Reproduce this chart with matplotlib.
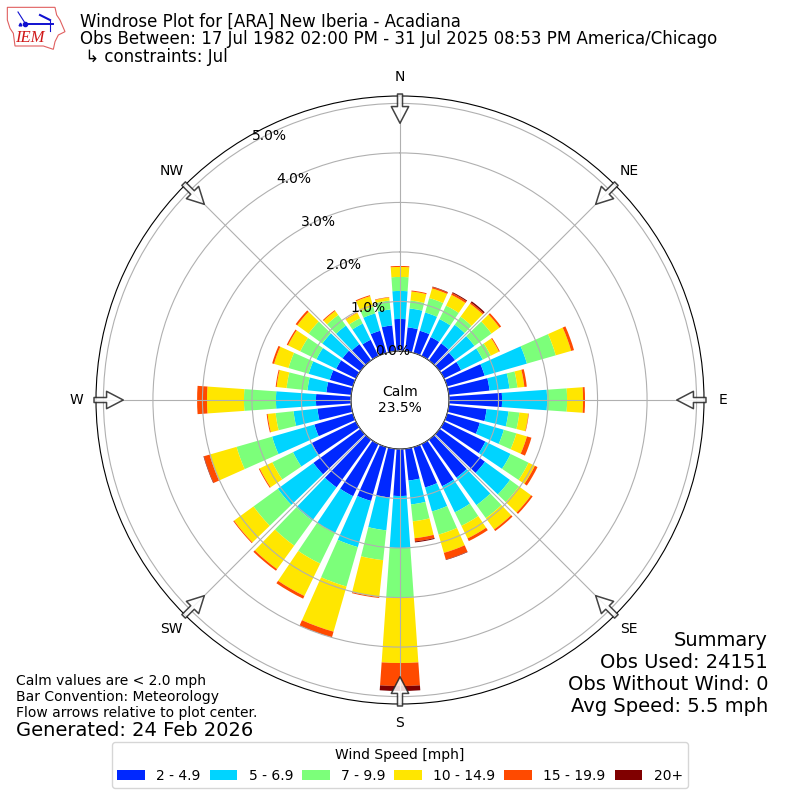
import numpy as np
import matplotlib
matplotlib.use("Agg")
import matplotlib.pyplot as plt
from matplotlib.patches import Polygon

directions = list(range(0, 360, 10))
bin_labels = ["2 - 4.9", "5 - 6.9", "7 - 9.9", "10 - 14.9", "15 - 19.9", "20+"]
bin_colors = ["#0028ff", "#00d4ff", "#7cff7a", "#ffe600", "#ff4a00", "#800000"]

s2_5 = [.646, .485, .465, .424, .424, .384, .384, .788, .828, 1.071, .768, .687,
        .929, 1.131, .949, .949, .848, .646, .949, .990, 1.131, 1.172, 1.192, 1.172,
        .990, .808, .687, .707, .505, .485, .444, .444, .404, .364, .465, .525]
s5_7 = [.566, .384, .384, .404, .465, .485, .485, .889, .404, .909, .444, .505,
        .566, .626, .687, .586, .505, .485, 1.05, .667, .970, .828, .828, .889,
        .424, .889, .485, .808, .384, .444, .444, .505, .465, .364, .364, .323]
s7_10 = [.283, .162, .303, .303, .202, .424, .182, .606, .162, .404, .222, .263,
         .404, .222, .323, .303, .485, .343, 1.01, .606, .828, .687, .626, .606,
         .465, .747, .364, .646, .424, .424, .364, .343, .263, .121, .141, .182]
s10_15 = [.202, .182, .202, .242, .323, .202, .182, .323, .141, .323, .182, .222,
          .141, .303, .283, .283, .384, .343, 1.313, .747, .949, .727, .586, .485,
          .283, .566, .162, .747, .202, .303, .273, .283, .101, .121, .222, .061]
s15_20 = [.02, .02, .03, .04, .03, .04, .02, .06, .05, .04, .01, .095,
          .06, .04, .04, .06, .14, .065, .465, .02, .12, .06, .04, .02,
          .02, .12, .02, .2, .02, .04, .03, .04, .02, .01, .02, .01]
s20 = [0, 0, .01, .02, .03, 0, 0, 0, 0, 0, 0, 0,
       0, 0, 0, 0, .01, .02, .10, 0, 0, 0, 0, 0,
       0, .01, 0, 0, 0, 0, 0, 0, 0, 0, 0, 0]
all_bins = [s2_5, s5_7, s7_10, s10_15, s15_20, s20]

r_ticks = [0, 1, 2, 3, 4, 5]
r_tick_labels = ["0.0%", "1.0%", "2.0%", "3.0%", "4.0%", "5.0%"]
compass_deg = [0, 45, 90, 135, 180, 225, 270, 315]
compass = ["N", "NE", "E", "SE", "S", "SW", "W", "NW"]
summary_lines = ["Summary", "Obs Used: 24151", "Obs Without Wind: 0", "Avg Speed: 5.5 mph"]

fig = plt.figure(figsize=(8, 8), dpi=100)
ax = fig.add_axes([96 / 800, 96 / 800, 608 / 800, 608 / 800], projection="polar")
ax.set_theta_zero_location("N")
ax.set_theta_direction(-1)
ax.set_axisbelow(False)

theta = np.radians(directions)
base = np.zeros(len(directions))
handles = []
for vals, lab, col in zip(all_bins, bin_labels, bin_colors):
    v = np.array(vals)
    b = ax.bar(theta, v, width=np.radians(8), bottom=base, color=col, label=lab, linewidth=0)
    handles.append(b)
    base = base + v

ax.set_rmax(5.15)
ax.set_rmin(0)
ax.set_rorigin(-0.99)
ax.set_rgrids(r_ticks, r_tick_labels, angle=330, fontsize=10)
ax.set_thetagrids(compass_deg, compass, fontsize=10)
ax.tick_params(axis="x", pad=3.5)
for t in ax.yaxis.get_ticklabels():
    t.set_horizontalalignment("left")

for d in compass_deg:
    a = np.radians(d)
    ax.annotate("", xy=(a, 4.6), xytext=(a, 5.19), xycoords="data", textcoords="data",
                annotation_clip=False,
                arrowprops=dict(facecolor="white", edgecolor="#222222", alpha=0.85, width=3.6,
                                headwidth=12.5, headlength=12, shrink=0, linewidth=1.1))

ax.text(0.5, 0.5, "Calm\n23.5%", transform=ax.transAxes, ha="center", va="center", fontsize=10)

fig.text(0.1, 1 - 13 / 800, "Windrose Plot for [ARA] New Iberia - Acadiana\n"
         "Obs Between: 17 Jul 1982 02:00 PM - 31 Jul 2025 08:53 PM America/Chicago\n"
         " \u21b3 constraints: Jul", ha="left", va="top", fontsize=12, linespacing=0.96)
fig.text(16 / 800, 1 - 720 / 800, "Calm values are < 2.0 mph\nBar Convention: Meteorology\n"
         "Flow arrows relative to plot center.", ha="left", va="bottom", fontsize=10, linespacing=1.17)
fig.text(16 / 800, 1 - 740 / 800, "Generated: 24 Feb 2026", ha="left", va="bottom", fontsize=14)
for i, line in enumerate(summary_lines):
    fig.text(768 / 800, 1 - (640 + 22 * i) / 800, line, ha="right", va="center", fontsize=14)

fig.legend(handles=handles, loc="lower center", bbox_to_anchor=(0.5, 0.00625), ncol=6,
           fontsize=10, title="Wind Speed [mph]", title_fontsize=10, columnspacing=0.65)

logo = fig.add_axes([0, 1 - 55 / 800, 70 / 800, 55 / 800])
logo.set_xlim(0, 70)
logo.set_ylim(55, 0)
logo.axis("off")
logo.add_patch(Polygon(np.array([(22, 22), (165, 22), (170, 45), (180, 60), (195, 95), (175, 105), (165, 125),
                                 (160, 148), (130, 138), (45, 138), (40, 100), (30, 85), (22, 60)]) / 3,
                       closed=True, fill=False, edgecolor="#e06060", linewidth=0.8))
logo.plot([25, 53], [23.5, 23.5], color="#1010d0", lw=1.4)
logo.plot([25], [23.5], "o", color="#1010d0", ms=3)
logo.plot([18, 25], [12, 23], color="#1010d0", lw=0.8)
logo.plot([40, 50], [15, 20], color="#1010d0", lw=1.5)
logo.plot([50, 50], [20, 31], color="#1010d0", lw=0.8)
logo.plot([20], [24], "^", color="#1010d0", ms=2)
logo.text(30, 38, "IEM", color="#d01818", fontsize=12, family="Liberation Serif", style="italic",
          ha="center", va="center")

fig.savefig("out.png", dpi=100)
